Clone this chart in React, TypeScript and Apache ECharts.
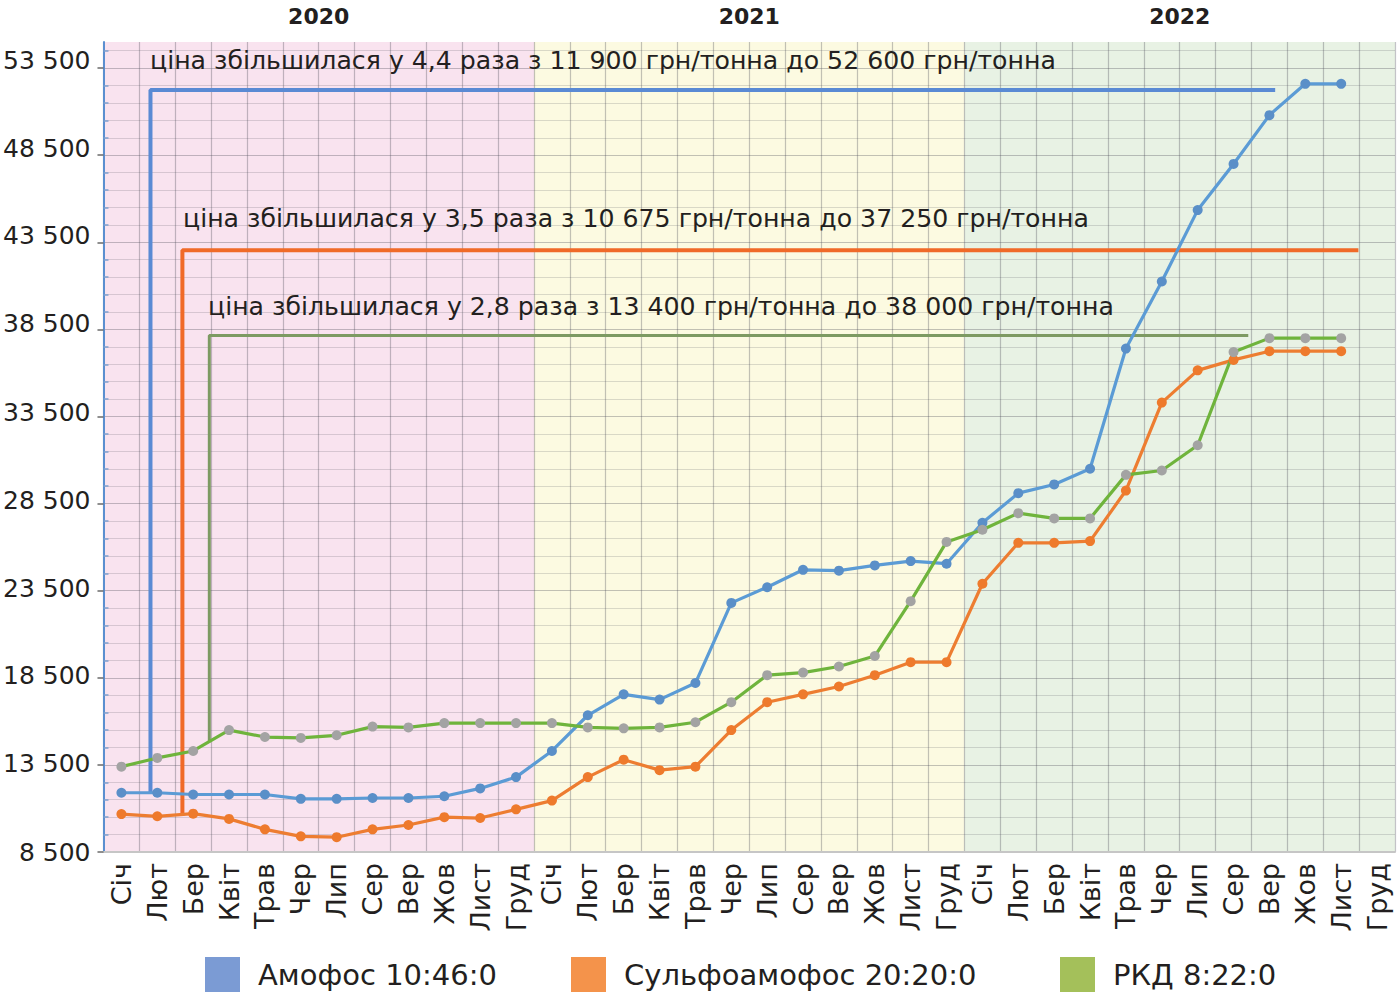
import React, { useEffect, useRef } from 'react';
import * as echarts from 'echarts';

// Month names repeated for each of the three years on the category axis
const MONTHS = ['Січ', 'Лют', 'Бер', 'Квіт', 'Трав', 'Чер', 'Лип', 'Сер', 'Вер', 'Жов', 'Лист', 'Груд'];
const YEARS = ['2020', '2021', '2022'];
const CATEGORIES = YEARS.flatMap(() => MONTHS);

// Prices, грн/тонна (Січ 2020 … Груд 2022)
const AMOFOS = [
  11900, 11900, 11800, 11800, 11800, 11550, 11550, 11600, 11600, 11700, 12150, 12800,
  14300, 16350, 17550, 17250, 18200, 22800, 23700, 24700, 24650, 24950, 25200, 25050,
  27400, 29100, 29600, 30500, 37400, 41250, 45350, 48000, 50800, 52600, 52600, null,
];
const SULFOAMOFOS = [
  10675, 10550, 10700, 10400, 9800, 9400, 9350, 9800, 10050, 10500, 10450, 10950,
  11450, 12800, 13800, 13200, 13400, 15500, 17100, 17550, 18000, 18650, 19400, 19400,
  23900, 26250, 26250, 26350, 29250, 34300, 36150, 36750, 37250, 37250, 37250, null,
];
const RKD = [
  13400, 13900, 14300, 15500, 15100, 15050, 15200, 15700, 15650, 15900, 15900, 15900,
  15900, 15650, 15600, 15650, 15950, 17100, 18650, 18800, 19150, 19750, 22900, 26300,
  27000, 27950, 27650, 27650, 30150, 30400, 31850, 37200, 38000, 38000, 38000, null,
];

// Bracket guides: [month index, price]
const BRACKET_AMOFOS = [[0.81, 11900], [0.81, 52250], [32.16, 52250]];
const BRACKET_SULFOAMOFOS = [[1.7, 10600], [1.7, 43050], [34.48, 43050]];
const BRACKET_RKD = [[2.45, 14800], [2.45, 38150], [31.41, 38150]];

const NOTES = [
  'ціна збільшилася у 4,4 раза з 11 900 грн/тонна до 52 600 грн/тонна',
  'ціна збільшилася у 3,5 раза з 10 675 грн/тонна до 37 250 грн/тонна',
  'ціна збільшилася у 2,8 раза з 13 400 грн/тонна до 38 000 грн/тонна',
];

const Y_MIN = 8500;
const Y_MAX = 55000;
const Y_STEP = 500;
const Y_LABELS = [8500, 13500, 18500, 23500, 28500, 33500, 38500, 43500, 48500, 53500];
const Y_MINOR: number[] = [];
for (let v = Y_MIN + 1000; v <= Y_MAX; v += 1000) {
  if (!Y_LABELS.includes(v)) Y_MINOR.push(v);
}

const SERIES_NAMES = ['Амофос 10:46:0', 'Сульфоамофос 20:20:0', 'РКД 8:22:0'];
const LINE_COLORS = ['#5b9bd5', '#ed7d31', '#6fb43c'];
const MARKER_COLORS = ['#5a8fc8', '#ee7a2c', '#a3a3a3'];
const LEGEND_COLORS = ['#7b9bd4', '#f4934b', '#a4c05a'];
const BRACKET_COLORS = ['#5a8ad4', '#f06a28', '#7d9a62'];
const BAND_COLORS = ['#f9e3ef', '#fcfae1', '#e8f2e4'];

const FONT = "'DejaVu Sans', 'Liberation Sans', sans-serif";
const TEXT = '#231f20';

const GRID_MAJOR = 'rgba(80,80,90,0.34)';
const GRID_MINOR = 'rgba(80,80,90,0.2)';
const GRID_NONE = 'rgba(0,0,0,0)';
// split lines every 500: strong each 5000, light each 1000
const Y_SPLIT_COLORS = [
  GRID_MAJOR, GRID_NONE, GRID_MINOR, GRID_NONE, GRID_MINOR,
  GRID_NONE, GRID_MINOR, GRID_NONE, GRID_MINOR, GRID_NONE,
];

const fmtPrice = (v: number) => {
  const th = Math.floor(v / 1000);
  const rest = String(v % 1000).padStart(3, '0');
  return th > 0 ? `${th} ${rest}` : String(v);
};

// upper labels sit a little above their gridline
const labelRich: Record<string, any> = {};
Y_LABELS.forEach((_, i) => {
  labelRich['s' + i] = {
    color: TEXT,
    fontSize: 25,
    fontFamily: FONT,
    padding: [0, 0, Math.round(i * 1.8), 0],
  };
});

const LEGEND_LEFT = [205, 571, 1060];

export default function App() {
  const ref = useRef<HTMLDivElement>(null);

  useEffect(() => {
    document.body.style.margin = '0';
    if (!ref.current) return;
    const chart = echarts.init(ref.current, undefined, { renderer: 'svg' });

    const dataSeries = [AMOFOS, SULFOAMOFOS, RKD].map((d, i) => ({
      type: 'line',
      name: SERIES_NAMES[i],
      xAxisIndex: 0,
      yAxisIndex: 0,
      data: d,
      symbol: 'circle',
      symbolSize: 10,
      z: 4,
      lineStyle: { color: LINE_COLORS[i], width: 3.2 },
      itemStyle: { color: MARKER_COLORS[i], borderWidth: 0 },
      emphasis: { disabled: true },
    }));

    const bracketSeries = [BRACKET_AMOFOS, BRACKET_SULFOAMOFOS, BRACKET_RKD].map((d, i) => ({
      type: 'line',
      name: 'bracket' + i,
      xAxisIndex: 2,
      yAxisIndex: 0,
      data: d,
      symbol: 'none',
      silent: true,
      z: 1,
      lineStyle: { color: BRACKET_COLORS[i], width: i === 2 ? 3 : 4 },
    }));

    // extra left axes that only carry tick marks
    const tickAxis = (values: number[], inside: boolean, color: string) => ({
      type: 'value',
      min: Y_MIN,
      max: Y_MAX,
      interval: Y_STEP,
      position: 'left',
      offset: 0,
      axisLine: { show: false, onZero: false },
      axisLabel: { show: false },
      splitLine: { show: false },
      axisTick: {
        show: true,
        inside,
        customValues: values,
        length: inside ? 5 : 6,
        lineStyle: { color, width: 1.5 },
      },
    });

    const option: any = {
      animation: false,
      backgroundColor: '#ffffff',
      grid: { left: 103, right: 3, top: 42, bottom: 146, containLabel: false },
      xAxis: [
        {
          type: 'category',
          data: CATEGORIES,
          boundaryGap: true,
          axisLine: { show: true, onZero: false, lineStyle: { color: '#c6c6c6', width: 2 } },
          axisTick: { show: false },
          axisLabel: {
            interval: 0,
            rotate: 90,
            margin: 11,
            color: TEXT,
            fontSize: 27,
            fontFamily: FONT,
          },
          splitLine: { show: true, interval: 0, lineStyle: { color: GRID_MAJOR, width: 1.2 } },
        },
        {
          type: 'category',
          data: YEARS,
          position: 'top',
          boundaryGap: true,
          axisLine: { show: false },
          axisTick: { show: false },
          splitLine: { show: false },
          axisLabel: {
            margin: 15,
            color: TEXT,
            fontSize: 22,
            fontWeight: 'bold',
            fontFamily: FONT,
          },
        },
        { type: 'value', min: -0.5, max: 35.5, show: false },
      ],
      yAxis: [
        {
          type: 'value',
          min: Y_MIN,
          max: Y_MAX,
          interval: Y_STEP,
          position: 'left',
          axisLine: { show: true, onZero: false, lineStyle: { color: '#5b8fd0', width: 2 } },
          axisTick: { show: false },
          axisLabel: {
            formatter: (v: number) => {
              const i = Y_LABELS.indexOf(v);
              return i >= 0 ? `{s${i}|${fmtPrice(v)}}` : '';
            },
            rich: labelRich,
            margin: 13,
            color: TEXT,
            fontSize: 25,
            fontFamily: FONT,
          },
          splitLine: { show: true, lineStyle: { color: Y_SPLIT_COLORS, width: 1.2 } },
        },
        tickAxis(Y_LABELS, false, '#6a6a6a'),
        tickAxis(Y_MINOR, true, '#7d9fcf'),
      ],
      legend: SERIES_NAMES.map((name, i) => ({
        left: LEGEND_LEFT[i],
        top: 957,
        padding: 0,
        icon: 'rect',
        itemWidth: 35,
        itemHeight: 35,
        selectedMode: false,
        itemStyle: { borderWidth: 0 },
        data: [{ name, itemStyle: { color: LEGEND_COLORS[i], borderWidth: 0 } }],
        textStyle: { color: TEXT, fontSize: 29, fontFamily: FONT, padding: [0, 0, 0, 13] },
      })),
      graphic: NOTES.map((text, i) => ({
        type: 'text',
        x: [150, 183, 208][i],
        y: [60, 218, 306][i],
        z: 10,
        silent: true,
        style: {
          text,
          fill: TEXT,
          fontSize: 25.2,
          fontFamily: FONT,
          verticalAlign: 'middle',
          align: 'left',
        },
      })),
      series: [
        {
          type: 'bar',
          name: 'bands',
          xAxisIndex: 1,
          yAxisIndex: 0,
          data: YEARS.map((_, i) => ({ value: Y_MAX, itemStyle: { color: BAND_COLORS[i] } })),
          barWidth: '100%',
          barCategoryGap: '0%',
          silent: true,
          z: -1,
        },
        ...bracketSeries,
        ...dataSeries,
      ],
    };

    chart.setOption(option);
    return () => chart.dispose();
  }, []);

  return <div ref={ref} style={{ width: 1398, height: 998 }} />;
}
